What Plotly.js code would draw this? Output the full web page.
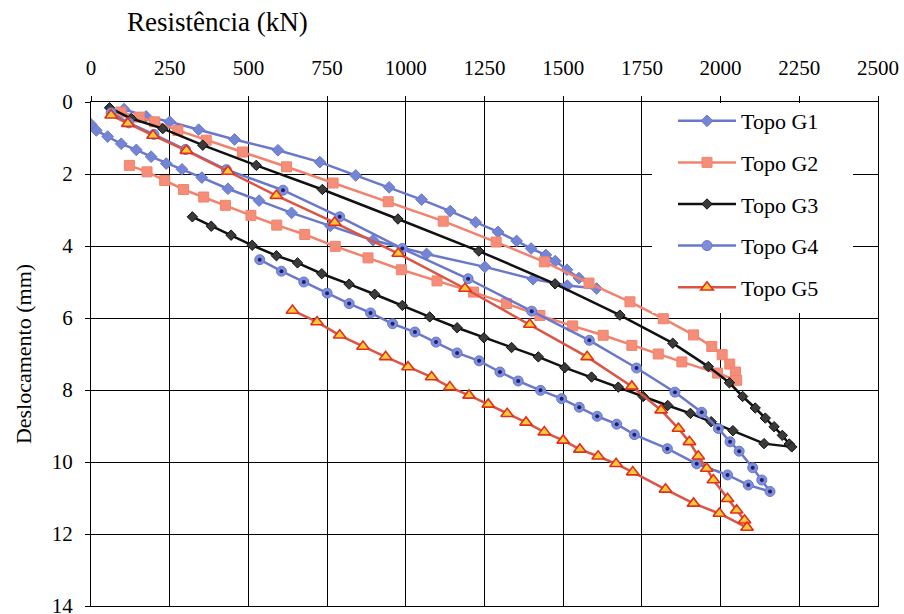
<!DOCTYPE html>
<html>
<head>
<meta charset="utf-8">
<script src="https://cdn.plot.ly/plotly-3.0.1.min.js"></script>
<style>
  html, body { margin: 0; padding: 0; background: #fff; }
  #chart { width: 904px; height: 614px; }
</style>
</head>
<body>
<div id="chart"></div>
<script>
// Resistência (kN) x Deslocamento (mm) — carregamento e descarregamento no topo
const xG1 = [105, 175, 250, 342, 456, 594, 727, 841, 947, 1050, 1141, 1222, 1293, 1352, 1398, 1445, 1475, 1512, 1550, 1606,
             1513, 1404, 1251, 1066, 896, 760, 637, 534, 435, 352, 289, 239, 191, 144, 96, 53, 17, 0];
const yG1 = [0.2, 0.4, 0.55, 0.77, 1.04, 1.34, 1.67, 2.04, 2.37, 2.71, 3.03, 3.34, 3.61, 3.86, 4.07, 4.25, 4.42, 4.66, 4.89, 5.18,
             5.1, 4.92, 4.58, 4.22, 3.84, 3.44, 3.08, 2.74, 2.41, 2.1, 1.87, 1.71, 1.52, 1.33, 1.16, 0.96, 0.79, 0.62];

const xG2 = [95, 154, 202, 276, 366, 481, 621, 769, 944, 1119, 1287, 1440, 1582, 1712, 1818, 1914, 1972, 2005, 2029, 2047, 2051,
             1990, 1877, 1802, 1718, 1627, 1530, 1426, 1320, 1215, 1099, 986, 880, 776, 679, 590, 508, 427, 358, 294, 234, 178, 122];
const yG2 = [0.28, 0.42, 0.55, 0.79, 1.06, 1.39, 1.8, 2.25, 2.77, 3.31, 3.89, 4.44, 5.03, 5.55, 6.02, 6.47, 6.79, 7.02, 7.28, 7.5, 7.73,
             7.53, 7.22, 7.0, 6.76, 6.48, 6.22, 5.93, 5.6, 5.28, 4.97, 4.66, 4.33, 4.01, 3.68, 3.42, 3.15, 2.87, 2.64, 2.43, 2.18, 1.94, 1.76];

const xG3 = [59, 128, 228, 355, 525, 735, 975, 1232, 1474, 1680, 1848, 1961, 2028, 2070, 2110, 2142, 2170, 2196, 2218, 2226,
             2138, 2039, 1970, 1904, 1832, 1754, 1675, 1590, 1505, 1421, 1336, 1248, 1163, 1076, 989, 901, 820, 733, 656, 589, 512, 445, 382, 322];
const yG3 = [0.16, 0.46, 0.74, 1.2, 1.76, 2.43, 3.25, 4.14, 5.05, 5.92, 6.7, 7.35, 7.8, 8.18, 8.5, 8.78, 9.02, 9.26, 9.5, 9.58,
             9.49, 9.13, 8.88, 8.65, 8.43, 8.18, 7.92, 7.64, 7.38, 7.08, 6.82, 6.55, 6.27, 5.97, 5.65, 5.34, 5.06, 4.77, 4.47, 4.27, 3.98, 3.7, 3.45, 3.19];

const xG4 = [64, 120, 200, 300, 430, 610, 790, 989, 1198, 1400, 1583, 1733, 1855, 1940, 1993, 2030, 2059, 2102, 2131, 2157,
             2088, 2022, 1924, 1831, 1726, 1670, 1608, 1551, 1495, 1428, 1357, 1299, 1233, 1163, 1096, 1029, 958, 888, 820, 750, 676, 605, 536];
const yG4 = [0.3, 0.58, 0.9, 1.32, 1.88, 2.45, 3.19, 4.07, 4.91, 5.81, 6.62, 7.39, 8.06, 8.62, 9.07, 9.44, 9.7, 10.16, 10.5, 10.82,
             10.64, 10.36, 10.05, 9.63, 9.24, 8.95, 8.73, 8.48, 8.24, 8.01, 7.75, 7.5, 7.19, 6.97, 6.67, 6.39, 6.16, 5.86, 5.6, 5.31, 5.0, 4.7, 4.38];

const xG5 = [64, 117, 197, 303, 435, 589, 774, 976, 1188, 1394, 1576, 1718, 1811, 1866, 1901, 1929, 1956, 1977, 2022, 2051, 2076, 2084,
             1996, 1914, 1825, 1721, 1668, 1611, 1553, 1500, 1440, 1382, 1322, 1262, 1201, 1140, 1082, 1007, 936, 864, 790, 718, 640];
const yG5 = [0.37, 0.6, 0.93, 1.35, 1.93, 2.6, 3.35, 4.21, 5.18, 6.18, 7.08, 7.9, 8.56, 9.07, 9.44, 9.84, 10.18, 10.5, 11.02, 11.34, 11.62, 11.82,
             11.43, 11.15, 10.76, 10.28, 10.05, 9.84, 9.65, 9.4, 9.17, 8.9, 8.66, 8.4, 8.15, 7.92, 7.64, 7.36, 7.08, 6.79, 6.48, 6.11, 5.79];

const seriesNames = ['Topo G1', 'Topo G2', 'Topo G3', 'Topo G4', 'Topo G5'];
const xTicks = [0, 250, 500, 750, 1000, 1250, 1500, 1750, 2000, 2250, 2500];
const yTicks = [0, 2, 4, 6, 8, 10, 12, 14];

const SERIF = 'Liberation Serif';
const BLUE = '#6a78cc';
const SALMON = '#f3826c';

const traces = [
  {
    x: xG1, y: yG1, name: seriesNames[0], legendgroup: 'g1',
    mode: 'lines+markers',
    line: { color: BLUE, width: 2.5 },
    marker: { symbol: 'diamond', size: 9, color: '#7585d6', line: { color: '#6a78cc', width: 1 } }
  },
  {
    x: xG2, y: yG2, name: seriesNames[1], legendgroup: 'g2',
    mode: 'lines+markers',
    line: { color: SALMON, width: 2.5 },
    marker: { symbol: 'square', size: 10, color: '#f58e78', line: { color: '#f3826c', width: 1 } }
  },
  {
    x: xG3, y: yG3, name: seriesNames[2], legendgroup: 'g3',
    mode: 'lines+markers',
    line: { color: '#111111', width: 2.5 },
    marker: { symbol: 'diamond', size: 8, color: '#3a3a3a', line: { color: '#111111', width: 1 } }
  },
  {
    x: xG4, y: yG4, name: seriesNames[3], legendgroup: 'g4',
    mode: 'lines+markers',
    line: { color: BLUE, width: 2.5 },
    marker: { symbol: 'circle', size: 10, color: '#7e8ddc', line: { color: '#6a78cc', width: 1 } }
  },
  {
    // dark centre of the G4 markers
    x: xG4, y: yG4, name: seriesNames[3], legendgroup: 'g4', showlegend: false, hoverinfo: 'skip',
    mode: 'markers',
    marker: { symbol: 'circle', size: 4, color: '#1c2266' }
  },
  {
    x: xG5, y: yG5, name: seriesNames[4], legendgroup: 'g5',
    mode: 'lines+markers',
    line: { color: '#dc5444', width: 2.5 },
    marker: { symbol: 'triangle-up', size: 11, color: '#ffc93a', line: { color: '#e0301c', width: 1.6 } }
  }
];

const L = 91, R = 26, T = 102, B = 8, W = 904, H = 614;
const pw = W - L - R, ph = H - T - B;
const px = v => (v - L) / pw;          // page x -> paper
const py = v => (H - B - v) / ph;       // page y -> paper

const axisCommon = {
  showgrid: true, gridcolor: '#000000', gridwidth: 1,
  showline: true, linecolor: '#000000', linewidth: 1, mirror: true,
  ticks: 'outside', ticklen: 5, tickcolor: '#000000', tickwidth: 1,
  zeroline: false, fixedrange: true, ticklabeloverflow: 'allow',
  tickfont: { family: SERIF, size: 21, color: '#000000' }
};

const layout = {
  width: W, height: H,
  margin: { l: L, r: R, t: T, b: B, pad: 0 },
  paper_bgcolor: '#ffffff', plot_bgcolor: '#ffffff',
  showlegend: true,
  xaxis: Object.assign({}, axisCommon, {
    side: 'top', range: [0, 2500], tickvals: xTicks, ticklabelstandoff: 13
  }),
  yaxis: Object.assign({}, axisCommon, {
    range: [14, 0], tickvals: yTicks, ticklabelstandoff: 8,
    title: { text: 'Deslocamento (mm)', font: { family: SERIF, size: 22, color: '#000' }, standoff: 14 }
  }),
  legend: {
    x: px(673), y: py(100), xanchor: 'left', yanchor: 'top',
    bgcolor: 'rgba(0,0,0,0)', borderwidth: 0,
    font: { family: SERIF, size: 22, color: '#000' },
    itemwidth: 58, tracegroupgap: 10, traceorder: 'grouped'
  },
  shapes: [{
    type: 'rect', xref: 'paper', yref: 'paper', layer: 'above',
    x0: px(652), x1: px(853), y0: py(313), y1: py(103),
    fillcolor: '#ffffff', line: { width: 0 }
  }],
  annotations: [{
    text: 'Resistência (kN)', xref: 'paper', yref: 'paper',
    x: px(125), y: py(22), xanchor: 'left', yanchor: 'middle', showarrow: false,
    font: { family: SERIF, size: 27, color: '#000' }
  }]
};

function draw() {
  Plotly.newPlot('chart', traces, layout, { displayModeBar: false });
}
if (document.fonts && document.fonts.load) {
  document.fonts.load('22px "Liberation Serif"').then(draw, draw);
} else {
  draw();
}
</script>
</body>
</html>
